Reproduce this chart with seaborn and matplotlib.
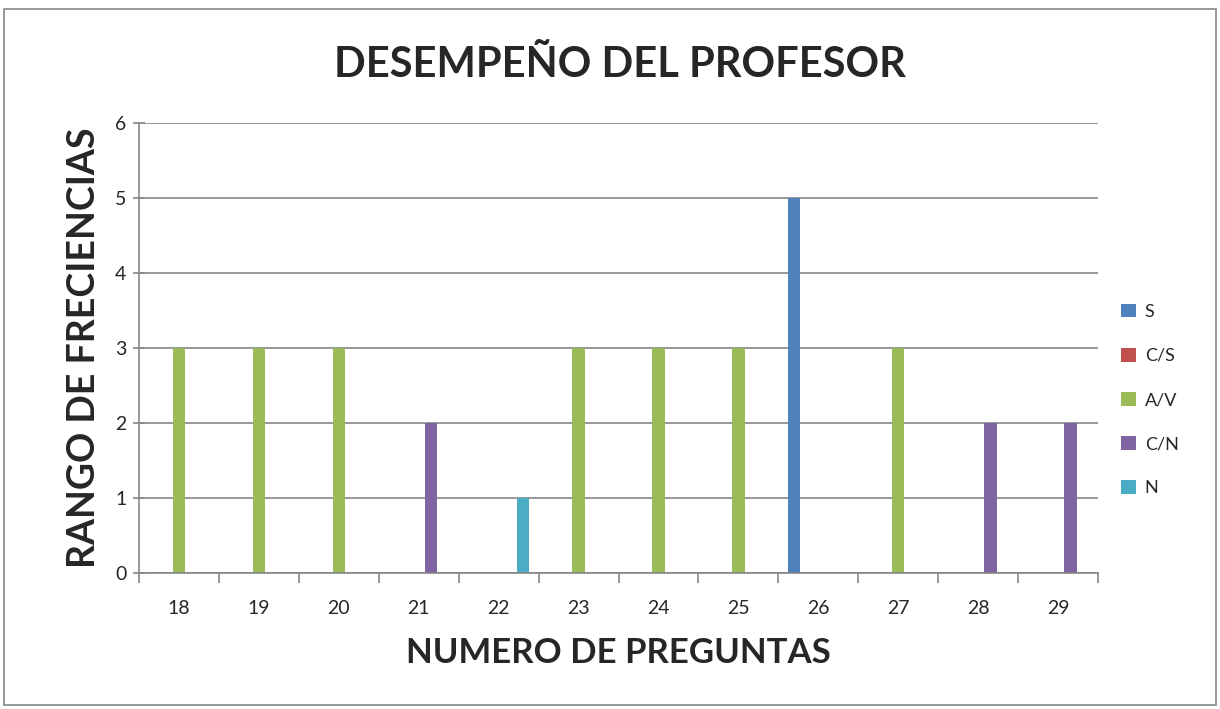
import matplotlib
matplotlib.use("Agg")
import matplotlib.pyplot as plt
import seaborn as sns
import pandas as pd
from matplotlib.patches import Rectangle

preguntas = ["18", "19", "20", "21", "22", "23", "24", "25", "26", "27", "28", "29"]
series = ["S", "C/S", "A/V", "C/N", "N"]
s_vals = [0, 0, 0, 0, 0, 0, 0, 0, 5, 0, 0, 0]
cs_vals = [0, 0, 0, 0, 0, 0, 0, 0, 0, 0, 0, 0]
av_vals = [3, 3, 3, 0, 0, 3, 3, 3, 0, 3, 0, 0]
cn_vals = [0, 0, 0, 2, 0, 0, 0, 0, 0, 0, 2, 2]
n_vals = [0, 0, 0, 0, 1, 0, 0, 0, 0, 0, 0, 0]
colors = ["#4F81BD", "#C0504D", "#9BBB59", "#8064A2", "#4BACC6"]

rows = []
for name, vals in zip(series, [s_vals, cs_vals, av_vals, cn_vals, n_vals]):
    for p, v in zip(preguntas, vals):
        rows.append({"pregunta": p, "serie": name, "valor": v})
df = pd.DataFrame(rows)

sns.set_style("white", {"xtick.bottom": True, "ytick.left": True})
plt.rcParams['font.family'] = ['Lato', 'DejaVu Sans']

fig = plt.figure(figsize=(12.2, 7.09), dpi=100)
ax = fig.add_axes([139/1220, 1-573/709, (1098-139)/1220, (573-123)/709])

sns.barplot(data=df, x="pregunta", y="valor", hue="serie", order=preguntas,
            hue_order=series, palette=colors, width=0.77, saturation=1,
            linewidth=0, ax=ax)

ax.set_ylim(0, 6)
ax.set_xlim(-0.5, len(preguntas) - 0.5)
ax.set_yticks(range(0, 7))
ax.yaxis.grid(True, color="#868686", linewidth=1.2)
ax.set_axisbelow(True)
for side in ["top", "right"]:
    ax.spines[side].set_visible(False)
for side in ["left", "bottom"]:
    ax.spines[side].set_color("#868686")
    ax.spines[side].set_linewidth(1.2)

ax.set_xticks(range(len(preguntas)))
ax.set_xticklabels(preguntas)
ax.set_xticks([i - 0.5 for i in range(len(preguntas) + 1)], minor=True)
ax.tick_params(axis="x", which="major", bottom=False, labelsize=14, pad=16)
ax.tick_params(axis="x", which="minor", bottom=True, length=7, color="#868686", width=1.2, direction="out")
ax.tick_params(axis="y", left=True, length=8, color="#868686", width=1.2, direction="inout", labelsize=14, pad=5)

ax.set_xlabel("NUMERO DE PREGUNTAS", fontsize=25, fontweight="bold", labelpad=14)
ax.set_ylabel("RANGO DE FRECIENCIAS", fontsize=27, fontweight="bold", labelpad=10)
fig.text(620/1220, 1-65/709, "DESEMPEÑO DEL PROFESOR", ha="center", va="center",
         fontsize=30, fontweight="bold")

handles, labels = ax.get_legend_handles_labels()
ax.legend_.remove()
fig.legend(handles, labels, loc="center left", bbox_to_anchor=(1105/1220, 1-400/709),
           frameon=False, fontsize=13, handlelength=0.8, handleheight=0.8,
           labelspacing=1.55, handletextpad=0.5)

fig.patches.append(Rectangle((4/1220, 4/709), 1212/1220, 1-13/709, transform=fig.transFigure,
                             fill=False, edgecolor="#868686", linewidth=1.2))

fig.savefig("out.png", dpi=100)
